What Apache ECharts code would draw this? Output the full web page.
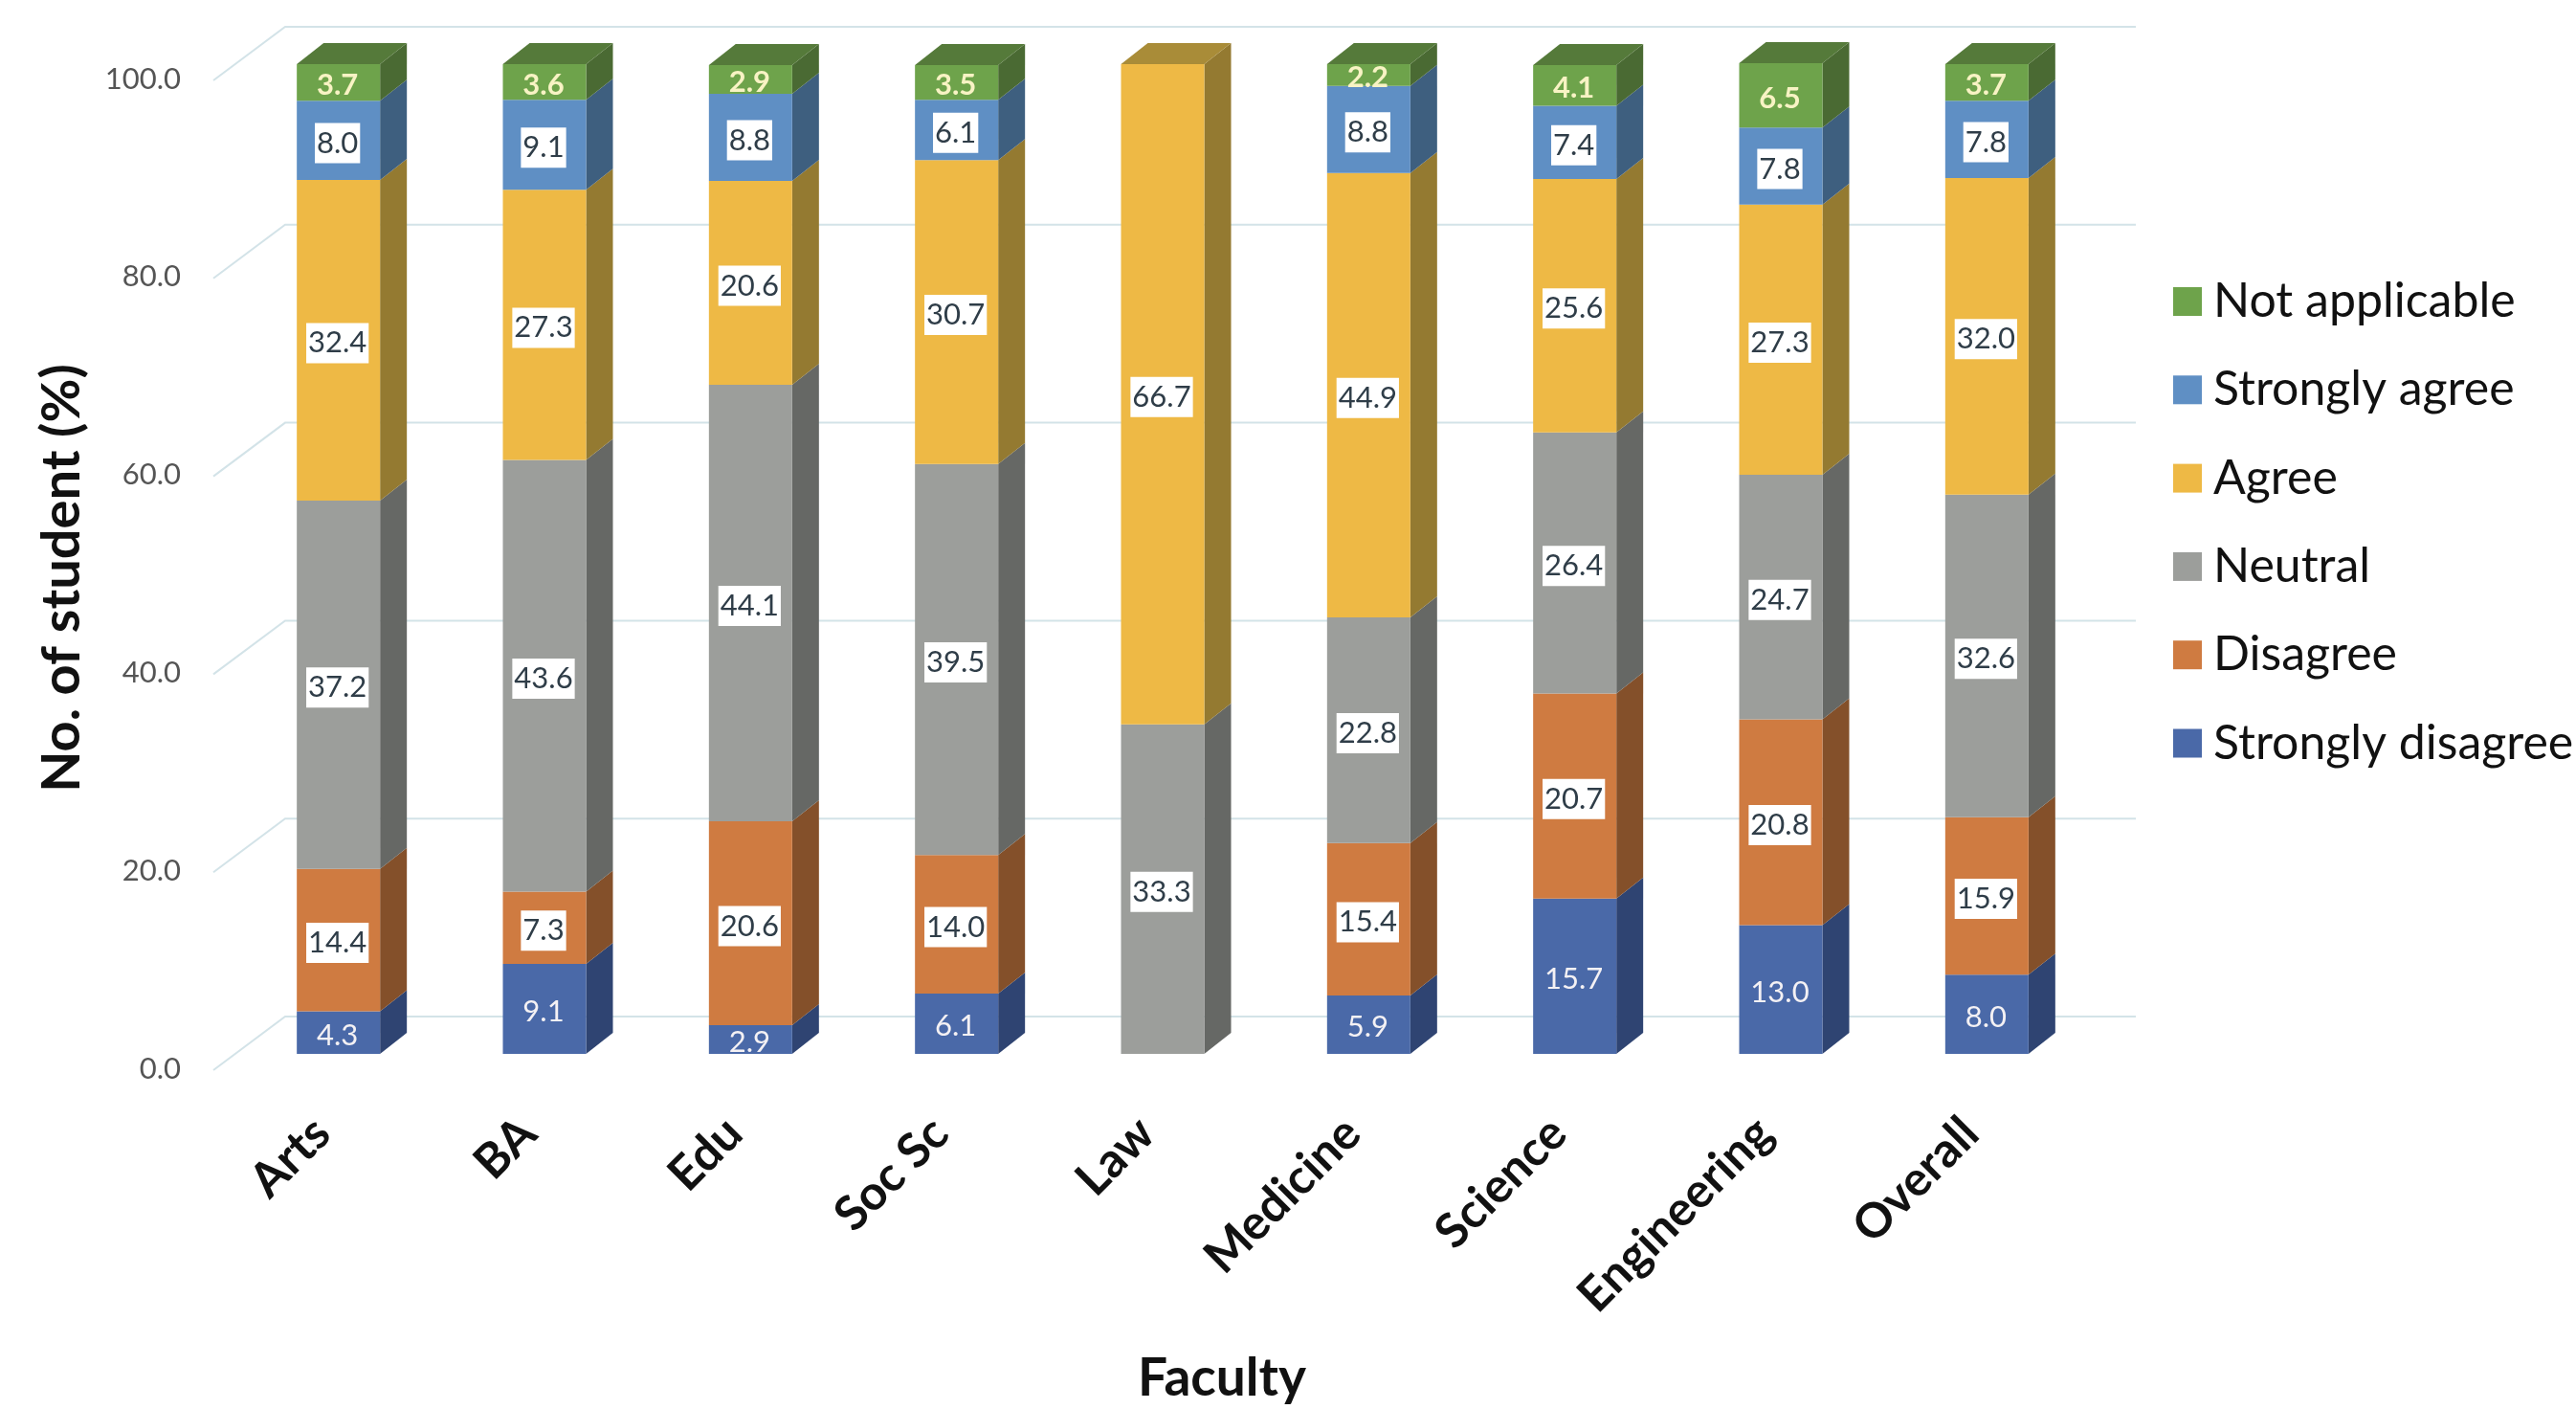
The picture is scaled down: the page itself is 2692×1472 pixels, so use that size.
<!DOCTYPE html>
<html>
<head>
<meta charset="utf-8">
<style>html,body{margin:0;padding:0;background:#fff}#chart{width:2692px;height:1472px}</style>
<script src="https://cdn.jsdelivr.net/npm/echarts@6/dist/echarts.min.js"></script>
</head>
<body>
<div id="chart"></div>
<script>
// Likert responses by faculty, percent of students
const faculties = ['Arts', 'BA', 'Edu', 'Soc Sc', 'Law', 'Medicine', 'Science', 'Engineering', 'Overall'];
const stronglyDisagree = [4.3, 9.1, 2.9, 6.1, null, 5.9, 15.7, 13.0, 8.0];
const disagree = [14.4, 7.3, 20.6, 14.0, null, 15.4, 20.7, 20.8, 15.9];
const neutral = [37.2, 43.6, 44.1, 39.5, 33.3, 22.8, 26.4, 24.7, 32.6];
const agree = [32.4, 27.3, 20.6, 30.7, 66.7, 44.9, 25.6, 27.3, 32.0];
const stronglyAgree = [8.0, 9.1, 8.8, 6.1, null, 8.8, 7.4, 7.8, 7.8];
const notApplicable = [3.7, 3.6, 2.9, 3.5, null, 2.2, 4.1, 6.5, 3.7];
const valueTicks = [0, 20, 40, 60, 80, 100];

const FONT = 'Lato, "Open Sans", sans-serif';
const BAR_W = 87, DEPTH_X = 28, DEPTH_Y = 22;

// Bottom-to-top stacking order, with front and shaded side colours
const layers = [
  { name: 'Strongly disagree', values: stronglyDisagree, front: '#4a69a8', side: '#2f4472', top: '#3a5488', text: 'plain' },
  { name: 'Disagree', values: disagree, front: '#cf7b41', side: '#84502a', top: '#9a5f33', text: 'boxed' },
  { name: 'Neutral', values: neutral, front: '#9c9e9b', side: '#666865', top: '#7c7e7b', text: 'boxed' },
  { name: 'Agree', values: agree, front: '#eeb945', side: '#947a31', top: '#a98c38', text: 'boxed' },
  { name: 'Strongly agree', values: stronglyAgree, front: '#5f8fc4', side: '#3e5f7f', top: '#4a7099', text: 'boxed' },
  { name: 'Not applicable', values: notApplicable, front: '#6ea34b', side: '#4a6a33', top: '#557a3a', text: 'bold' }
];

const labelStyles = {
  plain: { color: '#f4f1f4', fontWeight: 'normal' },
  bold: { color: '#f8f3c4', fontWeight: 'bold' },
  boxed: { color: '#2f3d48', fontWeight: 'normal', backgroundColor: '#ffffff', padding: [6, 2, 5, 2] }
};

// Running totals give each segment's base and top for the extruded faces
const sideRows = [];
faculties.forEach((_, c) => {
  let total = 0, last = -1;
  layers.forEach((l, i) => { if (l.values[c] != null) last = i; });
  layers.forEach((l, i) => {
    const v = l.values[c];
    if (v == null) return;
    sideRows.push([c, total, total + v, i, i === last ? 1 : 0]);
    total += v;
  });
});

const barSeries = layers.map(l => ({
  name: l.name,
  type: 'bar',
  stack: 'responses',
  barWidth: BAR_W,
  clip: false,
  z: 3,
  itemStyle: { color: l.front },
  label: Object.assign({ show: true, position: 'inside', offset: [-1, 3], fontFamily: FONT, fontSize: 31,
    formatter: p => p.value.toFixed(1) }, labelStyles[l.text]),
  data: l.values
}));

// Side and top faces of each bar, offset from the front face
const sideSeries = {
  type: 'custom',
  z: 2,
  silent: true,
  clip: false,
  encode: { x: 0, y: [1, 2] },
  data: sideRows,
  renderItem(params, api) {
    const l = layers[api.value(3)];
    const lo = api.coord([api.value(0), api.value(1)]);
    const hi = api.coord([api.value(0), api.value(2)]);
    const x = lo[0] + BAR_W / 2;
    const children = [{
      type: 'polygon',
      shape: { points: [[x, lo[1]], [x + DEPTH_X, lo[1] - DEPTH_Y], [x + DEPTH_X, hi[1] - DEPTH_Y], [x, hi[1]]] },
      style: { fill: l.side }
    }];
    if (api.value(4)) {
      const left = x - BAR_W;
      children.push({
        type: 'polygon',
        shape: { points: [[left, hi[1]], [left + DEPTH_X, hi[1] - DEPTH_Y], [x + DEPTH_X, hi[1] - DEPTH_Y], [x, hi[1]]] },
        style: { fill: l.top }
      });
    }
    return { type: 'group', children };
  }
};

// Gridlines running along the floor edge and across the back wall
const wallSeries = {
  type: 'custom',
  z: 1,
  silent: true,
  clip: false,
  encode: { y: 0 },
  data: valueTicks.map(v => [v]),
  renderItem(params, api) {
    const y = api.coord([0, api.value(0)])[1];
    return {
      type: 'polyline',
      shape: { points: [[223, y + 17], [298, y - 39], [2232, y - 39]] },
      style: { stroke: '#d3e3e8', lineWidth: 2, fill: null }
    };
  }
};

const chart = echarts.init(document.getElementById('chart'), null, { renderer: 'canvas' });
chart.setOption({
  animation: false,
  backgroundColor: '#ffffff',
  grid: { left: 246, top: 67, width: 1938, height: 1034, outerBoundsMode: 'none' },
  legend: {
    data: layers.map(l => l.name).reverse(),
    orient: 'vertical',
    left: 2266,
    top: 285,
    itemWidth: 30,
    itemHeight: 30,
    itemGap: 42.3,
    icon: 'rect',
    selectedMode: false,
    textStyle: { fontFamily: FONT, fontSize: 50, color: '#111', lineHeight: 48, padding: [0, 0, 0, 7] }
  },
  xAxis: {
    type: 'category',
    data: faculties,
    axisLine: { show: false },
    axisTick: { show: false },
    axisLabel: { interval: 0, rotate: 45, margin: 58, fontFamily: FONT, fontSize: 50, fontWeight: 'bold', color: '#111', padding: [0, 24, 0, 0] },
    name: 'Faculty',
    nameLocation: 'middle',
    nameGap: 312,
    nameTextStyle: { fontFamily: FONT, fontSize: 55, fontWeight: 'bold', color: '#111', padding: [0, 0, 0, 124] }
  },
  yAxis: {
    type: 'value',
    min: 0,
    max: 100,
    interval: 20,
    axisLine: { show: false },
    axisTick: { show: false },
    splitLine: { show: false },
    axisLabel: { margin: 57, fontFamily: FONT, fontSize: 31, color: '#555', verticalAlign: 'top', lineHeight: 31,
      formatter: v => v.toFixed(1) },
    name: 'No. of student (%)',
    nameLocation: 'middle',
    nameGap: 153,
    nameTextStyle: { fontFamily: FONT, fontSize: 56, fontWeight: 'bold', color: '#111', padding: [0, 40, 0, 0] }
  },
  series: [wallSeries, sideSeries].concat(barSeries)
});
</script>
</body>
</html>
